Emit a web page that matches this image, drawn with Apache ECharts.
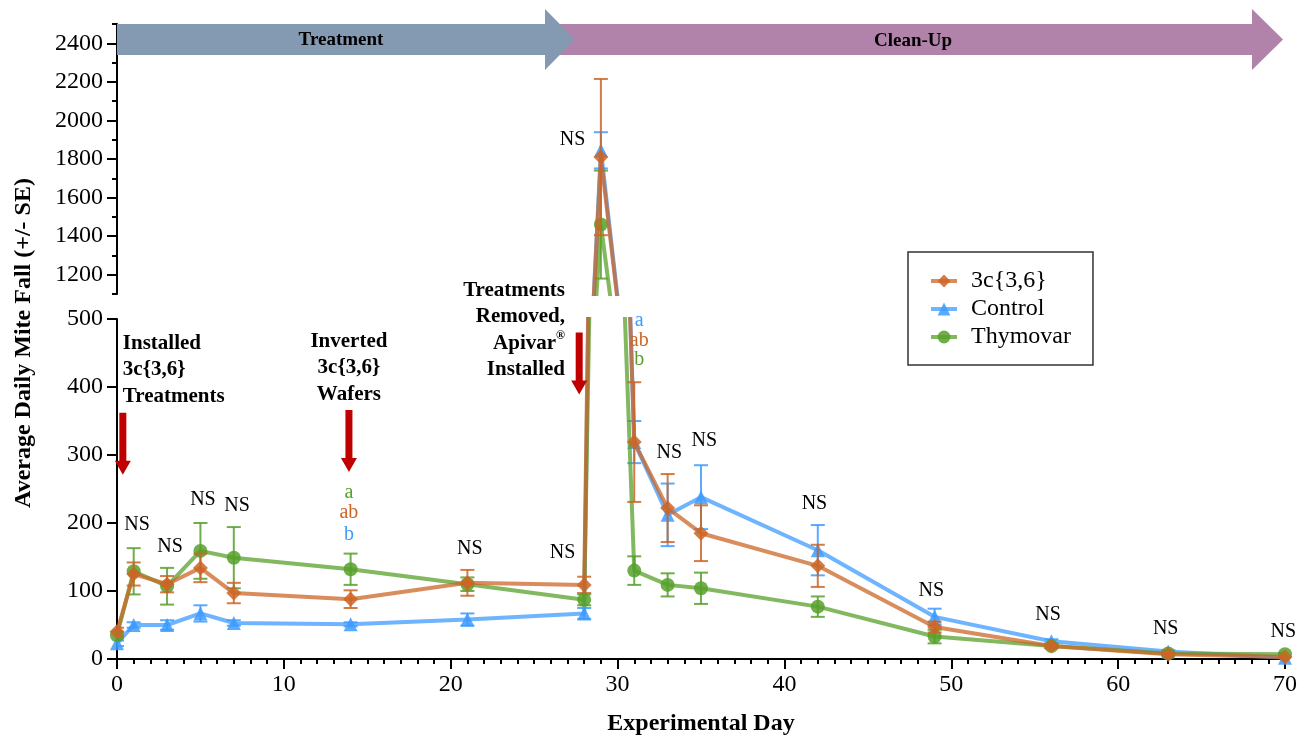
<!DOCTYPE html>
<html lang="en">
<head>
<meta charset="UTF-8">
<title>mite fall</title>
<script src="https://cdn.jsdelivr.net/npm/echarts@6/dist/echarts.min.js"></script>
<style>
    html, body { margin: 0; padding: 0; background: #fff; }
    #box { width: 1311px; height: 739px; }
</style>
</head>
<body>
<div id="box"></div>
<script>
// sampling days
var days = [0, 1, 3, 5, 7, 14, 21, 28, 29, 31, 33, 35, 42, 49, 56, 63, 70];

// means and standard errors
var mean3c = [40, 125, 110, 134, 97, 88, 112, 109, 1810, 319, 222, 185, 137, 47, 19, 7, 3];
var se3c   = [6, 17, 12, 21, 15, 13, 19, 12, 405, 88, 50, 41, 31, 8, 3, 2, 1];
var meanControl = [23, 50, 50, 67, 53, 51, 58, 67, 1845, 319, 212, 238, 160, 62, 26, 11, 2];
var seControl   = [4, 4, 7, 12, 4, 3, 9, 8, 94, 31, 46, 47, 37, 12, 3, 2, 1];
var meanThymovar = [35, 129, 107, 159, 149, 132, 110, 87, 1460, 130, 109, 104, 77, 33, 19, 8, 7];
var seThymovar   = [5, 34, 27, 41, 45, 23, 10, 8, 280, 21, 17, 23, 15, 10, 3, 2, 2];

// "NS" labels (lower panel) : day / height in data units
var nsX = [1.2, 3.18, 5.15, 7.19, 21.15, 26.7, 33.1, 35.2, 41.8, 48.8, 55.8, 62.85, 69.9];
var nsY = [197, 165, 234, 225, 162, 156, 304, 321, 229, 101, 65, 44, 40];
// "NS" label over the peak (upper panel)
var nsTopX = [27.3];
var nsTopY = [1898];

// significance letters
var letterX = [13.9, 13.9, 13.9, 31.3, 31.3, 31.3];
var letterY = [244, 215, 182, 497, 468, 440];
var letterText = ['a', 'ab', 'b', 'a', 'ab', 'b'];
var letterGroup = [2, 0, 1, 1, 0, 2];

// event arrows and their notes
var eventX = [0.35, 13.9, 27.7];
var arrowTop = [362, 366, 480];
var arrowTip = [271, 275, 389];
var eventText = ['Installed\n3c{3,6}\nTreatments', 'Inverted\n3c{3,6}\nWafers', 'Treatments\nRemoved,\nApivar{sup|®}\nInstalled'];
var eventLabelX = [0.35, 13.9, 26.85];
var eventLabelY = [484, 487, 562];
var eventAlign = ['left', 'center', 'right'];

var upperTicks = [1200, 1400, 1600, 1800, 2000, 2200, 2400];

var FONT = "'Liberation Serif', 'Times New Roman', serif";

var groups = [
    { name: '3c{3,6}', mean: mean3c, se: se3c, symbol: 'diamond', size: 15, color: '#cc6526', z: 4 },
    { name: 'Control', mean: meanControl, se: seControl, symbol: 'triangle', size: 14, color: '#3d9bff', z: 2 },
    { name: 'Thymovar', mean: meanThymovar, se: seThymovar, symbol: 'circle', size: 14, color: '#57a02b', z: 3 }
];

function lineSeries(g, idx) {
    return {
        type: 'line',
        name: g.name,
        xAxisIndex: idx,
        yAxisIndex: idx,
        data: days.map(function (d, i) { return [d, g.mean[i]]; }),
        symbol: g.symbol,
        symbolSize: g.size,
        clip: true,
        z: g.z,
        lineStyle: { width: 4, color: g.color, opacity: 0.75 },
        itemStyle: { color: g.color, opacity: 0.85 }
    };
}

function errSeries(g, idx) {
    return {
        type: 'custom',
        name: g.name + ' SE',
        xAxisIndex: idx,
        yAxisIndex: idx,
        clip: true,
        silent: true,
        z: g.z + 1,
        encode: { x: 0, y: [1, 2] },
        data: days.map(function (d, i) { return [d, g.mean[i] - g.se[i], g.mean[i] + g.se[i]]; }),
        renderItem: function (params, api) {
            var lo = api.coord([api.value(0), api.value(1)]);
            var hi = api.coord([api.value(0), api.value(2)]);
            var w = 7;
            var st = { stroke: g.color, lineWidth: 2, opacity: 0.85 };
            return {
                type: 'group',
                children: [
                    { type: 'line', shape: { x1: lo[0], y1: lo[1], x2: hi[0], y2: hi[1] }, style: st },
                    { type: 'line', shape: { x1: lo[0] - w, y1: lo[1], x2: lo[0] + w, y2: lo[1] }, style: st },
                    { type: 'line', shape: { x1: hi[0] - w, y1: hi[1], x2: hi[0] + w, y2: hi[1] }, style: st }
                ]
            };
        }
    };
}

function textSeries(idx, xs, ys, texts, cols) {
    return {
        type: 'custom',
        xAxisIndex: idx,
        yAxisIndex: idx,
        silent: true,
        clip: false,
        z: 10,
        data: xs.map(function (x, i) { return [x, ys[i]]; }),
        renderItem: function (params, api) {
            var p = api.coord([api.value(0), api.value(1)]);
            var i = params.dataIndex;
            return {
                type: 'text',
                x: p[0],
                y: p[1],
                style: {
                    text: texts[i], fill: cols[i], font: '20px ' + FONT,
                    align: 'center', verticalAlign: 'middle',
                    textAlign: 'center', textVerticalAlign: 'middle'
                }
            };
        }
    };
}

var nsTexts = nsX.map(function () { return 'NS'; });
var nsCols = nsX.map(function () { return '#000'; });

var eventSeries = {
    type: 'custom',
    xAxisIndex: 0,
    yAxisIndex: 0,
    silent: true,
    clip: false,
    z: 10,
    data: eventX.map(function (x, i) { return [x, arrowTop[i]]; }),
    renderItem: function (params, api) {
        var i = params.dataIndex;
        var top = api.coord([eventX[i], arrowTop[i]]);
        var tip = api.coord([eventX[i], arrowTip[i]]);
        var x = top[0], hw = 3.5, hh = 8, hl = 14;
        var arrow = {
            type: 'polygon',
            shape: { points: [[x - hw, top[1]], [x + hw, top[1]], [x + hw, tip[1] - hl], [x + hh, tip[1] - hl],
                              [x, tip[1]], [x - hh, tip[1] - hl], [x - hw, tip[1] - hl]] },
            style: { fill: '#c00000' }
        };
        var lp = api.coord([eventLabelX[i], eventLabelY[i]]);
        var label = {
            type: 'text',
            x: lp[0],
            y: lp[1],
            style: {
                text: eventText[i], fill: '#000', font: 'bold 21px ' + FONT, lineHeight: 26.5,
                align: eventAlign[i], verticalAlign: 'top',
                textAlign: eventAlign[i], textVerticalAlign: 'top',
                rich: { sup: { fontSize: 12, fontWeight: 'bold', fontFamily: FONT, verticalAlign: 'top', lineHeight: 26.5 } }
            }
        };
        return { type: 'group', children: [arrow, label] };
    }
};

var series = [];
groups.forEach(function (g) { series.push(lineSeries(g, 0)); });
groups.forEach(function (g) { series.push(lineSeries(g, 1)); });
groups.forEach(function (g) { series.push(errSeries(g, 0)); });
groups.forEach(function (g) { series.push(errSeries(g, 1)); });
series.push(textSeries(0, nsX, nsY, nsTexts, nsCols));
series.push(textSeries(1, nsTopX, nsTopY, ['NS'], ['#000']));
series.push(textSeries(0, letterX, letterY, letterText, letterGroup.map(function (k) { return groups[k].color; })));
series.push(eventSeries);

var axisBlack = { lineStyle: { color: '#000', width: 2 } };
var plain = function (v) { return String(v); };
var labelFont = { fontFamily: FONT, fontSize: 24, color: '#000', formatter: plain };

var myChart = echarts.init(document.getElementById('box'));
var option = {
    animation: false,
    backgroundColor: '#fff',
    grid: [
        { left: 117, right: 26, top: 319, height: 340 },
        { left: 117, right: 26, top: 24, height: 270 }
    ],
    xAxis: [
        {
            gridIndex: 0, type: 'value', min: 0, max: 70, interval: 10,
            axisLine: axisBlack,
            axisTick: { length: 10, lineStyle: { color: '#000', width: 2 } },
            minorTick: { show: true, splitNumber: 10, length: 5, lineStyle: { color: '#000', width: 2 } },
            axisLabel: Object.assign({ margin: 14 }, labelFont),
            splitLine: { show: false },
            name: 'Experimental Day', nameLocation: 'middle', nameGap: 53,
            nameTextStyle: { fontFamily: FONT, fontSize: 24, fontWeight: 'bold', color: '#000' }
        },
        { gridIndex: 1, type: 'value', min: 0, max: 70, show: false, splitLine: { show: false } }
    ],
    yAxis: [
        {
            gridIndex: 0, type: 'value', min: 0, max: 500, interval: 100,
            axisLine: { show: true, lineStyle: { color: '#000', width: 2 } },
            axisTick: { show: true, length: 10, lineStyle: { color: '#000', width: 2 } },
            axisLabel: Object.assign({ margin: 14 }, labelFont),
            splitLine: { show: false }
        },
        {
            gridIndex: 1, type: 'value', position: 'left', min: 1100, max: 2500, interval: 100,
            axisLine: { show: true, lineStyle: { color: '#000', width: 2 } },
            axisTick: { show: true, length: 10, lineStyle: { color: '#000', width: 2 }, customValues: upperTicks },
            axisLabel: Object.assign({ margin: 14, customValues: upperTicks }, labelFont),
            splitLine: { show: false }
        },
        {
            gridIndex: 1, type: 'value', position: 'left', offset: 0, min: 1100, max: 2500, interval: 100,
            axisLine: { show: false },
            axisTick: { show: true, length: 5, lineStyle: { color: '#000', width: 2 } },
            axisLabel: { show: false },
            splitLine: { show: false }
        }
    ],
    legend: {
        data: ['3c{3,6}', 'Control', 'Thymovar'],
        orient: 'vertical',
        left: 908,
        top: 252,
        padding: [17, 22, 16, 21],
        itemGap: 4,
        itemWidth: 26,
        itemHeight: 16,
        borderColor: '#333',
        borderWidth: 1.5,
        lineStyle: { width: 4 },
        textStyle: { fontFamily: FONT, fontSize: 24, color: '#000', lineHeight: 24, padding: [0, 0, 0, 9] }
    },
    graphic: [
        // Clean-Up banner (behind)
        { type: 'polygon', z: 100, shape: { points: [[545, 24], [1252, 24], [1252, 9], [1283, 39.5], [1252, 70], [1252, 55], [545, 55]] },
          style: { fill: '#b283aa' } },
        // Treatment banner
        { type: 'polygon', z: 101, shape: { points: [[117, 24], [545, 24], [545, 9], [575, 39.5], [545, 70], [545, 55], [117, 55]] },
          style: { fill: '#8499b2' } },
        { type: 'text', z: 102, x: 341, y: 40,
          style: { text: 'Treatment', font: 'bold 19px ' + FONT, fill: '#000', align: 'center', verticalAlign: 'middle', textAlign: 'center', textVerticalAlign: 'middle' } },
        { type: 'text', z: 102, x: 913, y: 41,
          style: { text: 'Clean-Up', font: 'bold 19px ' + FONT, fill: '#000', align: 'center', verticalAlign: 'middle', textAlign: 'center', textVerticalAlign: 'middle' } },
        // y axis title spanning both panels
        { type: 'text', z: 102, x: 24, y: 343, rotation: Math.PI / 2,
          style: { text: 'Average Daily Mite Fall (+/- SE)', font: 'bold 24px ' + FONT, fill: '#000',
                   align: 'center', verticalAlign: 'middle', textAlign: 'center', textVerticalAlign: 'middle' } }
    ],
    series: series
};

myChart.setOption(option);
</script>
</body>
</html>
